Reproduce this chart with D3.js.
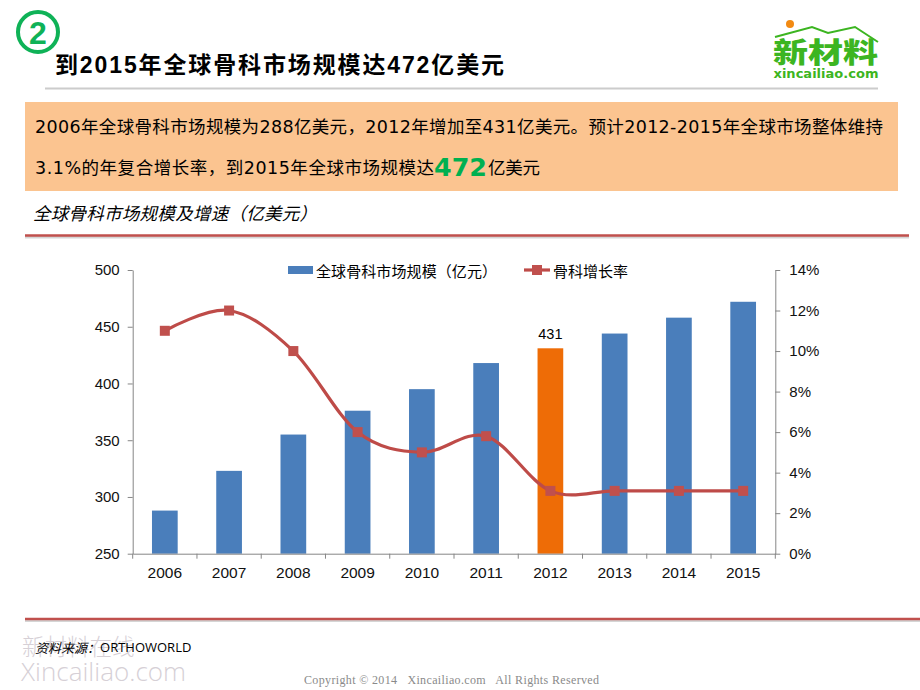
<!DOCTYPE html>
<html><head><meta charset="utf-8">
<style>
html,body{margin:0;padding:0;background:#fff;overflow:hidden}
svg{display:block}
text{font-family:"DejaVu Sans","Noto Sans CJK SC",sans-serif;fill:#000;white-space:pre}
.arial{font-family:"Liberation Sans","Noto Sans CJK SC",sans-serif}
.cjk{font-family:"Noto Sans CJK SC",sans-serif}
</style>
<script src="https://cdn.jsdelivr.net/npm/d3@7"></script>
</head><body>
<svg id="c" width="920" height="690"></svg>
<script>
const years = ["2006","2007","2008","2009","2010","2011","2012","2013","2014","2015"];
const marketSize = [288,323,355,376,395,418,431,444,458,472];
const growthRate = [11,12,10,6,5,5.8,3.1,3.1,3.1,3.1];
const highlightYear = "2012";
const leftTicks = [250,300,350,400,450,500];
const rightTicks = [0,2,4,6,8,10,12,14];
const seriesNames = ["全球骨科市场规模（亿元）","骨科增长率"];

const svg = d3.select("#c");
const addLine=(x1,x2,y,color,w)=>svg.append("line").attr("x1",x1).attr("x2",x2).attr("y1",y).attr("y2",y).attr("stroke",color).attr("stroke-width",w);
const addText=(s,x,y,size,opts={})=>{
  const t=svg.append("text").text(s).attr("x",x).attr("y",y).attr("font-size",size).attr("dominant-baseline","central");
  Object.entries(opts).forEach(([k,v])=>{ if(k==="class") t.attr("class",v); else t.attr(k,v); });
  return t;
};

// header
svg.append("circle").attr("cx",38).attr("cy",32).attr("r",20).attr("fill","none").attr("stroke","#0fb257").attr("stroke-width",4);
addText("2",38,33,32,{class:"arial","font-weight":"bold","text-anchor":"middle",style:"fill:#0fb257"});
addText("到2015年全球骨科市场规模达472亿美元",55,65,23,{class:"arial","font-weight":"bold",textLength:449,lengthAdjust:"spacing"});
addLine(45,878,88.5,"#cccccc",2);

// logo
svg.append("circle").attr("cx",790).attr("cy",24).attr("r",4).attr("fill","#f28a12");
svg.append("path").attr("d",d3.line()([[775,37],[812,27],[828,33],[855,27],[878,42]])).attr("fill","none").attr("stroke","#3cb521").attr("stroke-width",2);
addText("新材料",825.5,51,28,{class:"cjk","font-weight":"900","text-anchor":"middle",style:"fill:#3cb521",textLength:105,lengthAdjust:"spacingAndGlyphs"});
addText("xincailiao.com",826,74,11.5,{"font-weight":"bold","text-anchor":"middle",style:"fill:#3cb521",textLength:105,lengthAdjust:"spacingAndGlyphs"});

// summary box
svg.append("rect").attr("x",25).attr("y",102).attr("width",873).attr("height",89).attr("fill","#fbc490");
addText("2006年全球骨科市场规模为288亿美元，2012年增加至431亿美元。预计2012-2015年全球市场整体维持",35,127,17.5,{textLength:848,lengthAdjust:"spacing"});
addText("3.1%的年复合增长率，到2015年全球市场规模达",35,168,17.5,{textLength:399,lengthAdjust:"spacing"});
addText("472",434,167,25,{"font-weight":"bold",style:"fill:#00b050",textLength:53,lengthAdjust:"spacingAndGlyphs"});
addText("亿美元",488,168,17.5,{textLength:52,lengthAdjust:"spacing"});

// subtitle
addText("全球骨科市场规模及增速（亿美元）",33,212,17.5,{class:"cjk","font-style":"italic",textLength:284,lengthAdjust:"spacing"});
addLine(25,909,237,"#d5d5d5",3);
addLine(25,909,235.5,"#c0504d",2.5);

// chart
const L=132.7,R=775.3,T=270,B=553.7;
const x=d3.scaleBand().domain(years).range([L,R]).paddingInner(0.6).paddingOuter(0.3);
const yL=d3.scaleLinear().domain([250,500]).range([B,T]);
const yR=d3.scaleLinear().domain([0,14]).range([B,T]);

svg.append("g").selectAll("rect").data(years).join("rect")
  .attr("x",d=>x(d)).attr("width",x.bandwidth())
  .attr("y",(d,i)=>yL(marketSize[i])).attr("height",(d,i)=>B-yL(marketSize[i]))
  .attr("fill",d=>d===highlightYear?"#ee6c06":"#4a7ebb");

const styleAxis=(g,size)=>{
  g.selectAll(".domain,.tick line").attr("stroke","#868686");
  g.selectAll("text").attr("class","arial").attr("font-size",size).style("font-family",'"Liberation Sans",sans-serif').style("fill","#111");
};
svg.append("g").attr("transform",`translate(${L},0)`)
  .call(d3.axisLeft(yL).tickValues(leftTicks).tickSize(5).tickSizeOuter(0).tickPadding(8))
  .call(styleAxis,15);
svg.append("g").attr("transform",`translate(${R},0)`)
  .call(d3.axisRight(yR).tickValues(rightTicks).tickFormat(d=>d+"%").tickSize(5).tickSizeOuter(0).tickPadding(9))
  .call(styleAxis,15);
const xAxis=svg.append("g").attr("transform",`translate(0,${B})`)
  .call(d3.axisBottom(x).tickSize(0).tickPadding(13)).call(styleAxis,15.5);
const step=x.step();
xAxis.selectAll("line.sep").data(d3.range(years.length+1)).join("line").attr("class","sep")
  .attr("x1",i=>L+i*step).attr("x2",i=>L+i*step).attr("y1",0).attr("y2",5).attr("stroke","#868686");

// growth line
const lineGen=d3.line().x((d,i)=>x(years[i])+x.bandwidth()/2).y(d=>yR(d)).curve(d3.curveCatmullRom.alpha(0));
svg.append("path").datum(growthRate).attr("d",lineGen).attr("fill","none").attr("stroke","#be4b48").attr("stroke-width",3.2);
svg.append("g").selectAll("rect").data(growthRate).join("rect")
  .attr("x",(d,i)=>x(years[i])+x.bandwidth()/2-5).attr("y",d=>yR(d)-5)
  .attr("width",10).attr("height",10).attr("fill","#c0504d");

// data label
const hi=years.indexOf(highlightYear);
addText(String(marketSize[hi]),x(highlightYear)+x.bandwidth()/2,334,14.5,{class:"arial","text-anchor":"middle"});

// legend
svg.append("rect").attr("x",288).attr("y",266).attr("width",25).attr("height",8).attr("fill","#4a7ebb");
addText(seriesNames[0],316,270,15,{class:"cjk",textLength:181,lengthAdjust:"spacing"});
addLine(524,550,270,"#be4b48",3.2);
svg.append("rect").attr("x",532).attr("y",265).attr("width",10).attr("height",10).attr("fill","#c0504d");
addText(seriesNames[1],553,270,15,{class:"cjk"});

// footer
addLine(25,920,620.5,"#d5d5d5",3);
addLine(25,920,619,"#c0504d",2.5);
addText("新材料在线",22,645,22.5,{class:"cjk","font-weight":"300",style:"fill:#d6d0d6"});
addText("Xincailiao.com",21,671,26,{style:"fill:#d6d0d6;font-family:'Open Sans',sans-serif;font-weight:300",textLength:165,lengthAdjust:"spacing"});
const src=addText("资料来源：",35,647,13,{class:"cjk","font-style":"italic"});
src.append("tspan").text("ORTHOWORLD").attr("font-style","normal").style("font-family",'"Open Sans",sans-serif');
addText("Copyright © 2014   Xincailiao.com   All Rights Reserved",304,680,12,{style:"fill:#8a8a8a;font-family:'Liberation Serif',serif",textLength:295,lengthAdjust:"spacing"});
</script>
</body></html>
